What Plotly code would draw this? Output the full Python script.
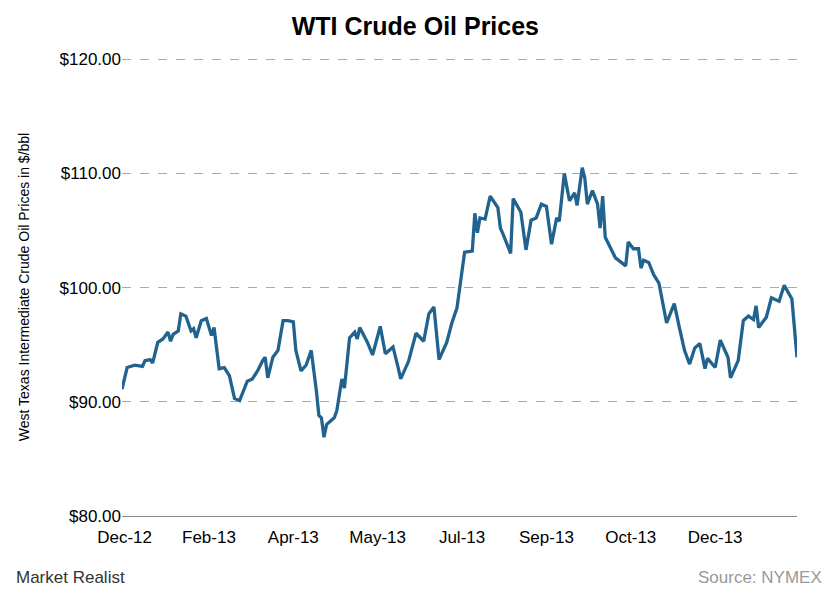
import plotly.graph_objects as go

days = [0,2,5,8,9,11,12,14,16,18,19,20,22,23,25,27,28,29,31,33,35,36,38,40,42,44,46,47,49,51,53,55,56,57,59,61,63,65,67,68,70,72,73,74,76,77,78,79,80,83,84,86,
        87,89,91,92,93,96,98,101,103,106,108,109,112,115,118,120,122,124,127,129,131,134,137,138,139,140,142,144,147,148,149,152,153,156,158,160,162,164,166,168,170,171,173,175,
        177,178,180,181,182,184,186,187,188,189,193,197,198,200,202,203,204,206,208,210,213,216,218,220,222,224,226,228,229,232,234,237,238,241,243,245,247,248,249,252,254,257,259,262,264]
prices = [91.1,93.0,93.2,93.1,93.6,93.7,93.4,95.2,95.5,96.1,95.3,95.9,96.2,97.7,97.5,96.2,96.4,95.6,97.1,97.3,95.8,96.5,92.9,93.0,92.3,90.3,90.1,90.7,91.8,92.0,92.7,93.6,93.9,92.1,93.9,94.5,97.1,97.1,97.0,94.5,92.7,93.2,93.9,94.5,91.0,88.8,88.6,86.9,88.0,88.6,89.2,92.0,
          91.2,95.6,96.1,95.5,96.5,95.2,94.1,96.6,94.2,94.8,93.0,92.0,93.5,96.0,95.3,97.7,98.3,93.7,95.2,96.9,98.2,103.1,103.2,106.5,104.8,106.1,106.0,108.0,107.0,105.2,104.7,103.0,107.8,106.6,103.3,105.9,106.1,107.3,107.1,103.8,106.1,105.8,110.0,107.6,
          108.3,107.2,110.5,109.6,107.3,108.5,107.3,105.2,108.0,104.4,102.6,101.9,104.0,103.4,103.4,101.7,102.4,102.2,101.1,100.4,96.9,98.6,96.5,94.5,93.3,94.7,95.1,92.9,93.8,93.0,95.4,93.9,92.1,93.6,97.1,97.5,97.2,98.4,96.5,97.4,99.1,98.8,100.2,99.0,93.9]
tick_days = [1,34,67,100,133,166,199,232]
tick_labels = ["Dec-12","Feb-13","Apr-13","May-13","Jul-13","Sep-13","Oct-13","Dec-13"]

fig = go.Figure(go.Scatter(x=days, y=prices, mode="lines",
                           line=dict(color="#21638f", width=3.3)))
fig.update_layout(
    width=840, height=600, plot_bgcolor="white", paper_bgcolor="white",
    margin=dict(l=114, r=51, t=50, b=92),
    font=dict(family="Arial, Liberation Sans", size=17, color="black"),
    title=dict(text="<b>WTI Crude Oil Prices</b>", x=0.485, xanchor="center", xref="container",
               y=0.985, yanchor="top", font=dict(size=25)),
    showlegend=False,
    annotations=[
        dict(text="Market Realist", x=0, xref="paper", xanchor="left", xshift=-108,
             y=-0.16, yref="paper", showarrow=False, font=dict(size=17, color="#333")),
        dict(text="Source: NYMEX", x=1, xref="paper", xanchor="right", xshift=27,
             y=-0.16, yref="paper", showarrow=False, font=dict(size=17, color="#999")),
    ],
)
fig.update_xaxes(range=[0, 264], tickvals=tick_days, ticktext=tick_labels, showgrid=False,
                 showline=True, linecolor="#888", ticks="", zeroline=False, automargin=False,
                 ticklabelstandoff=6)
fig.update_yaxes(range=[80, 120.1], tickvals=[80, 90, 100, 110, 120], tickformat="$.2f", showgrid=True,
                 gridcolor="#aaa", griddash="dash", zeroline=False, ticks="", automargin=False,
                 title=dict(text="West Texas Intermediate Crude Oil Prices in $/bbl",
                            font=dict(size=14), standoff=26))
fig.write_html("out.html")
